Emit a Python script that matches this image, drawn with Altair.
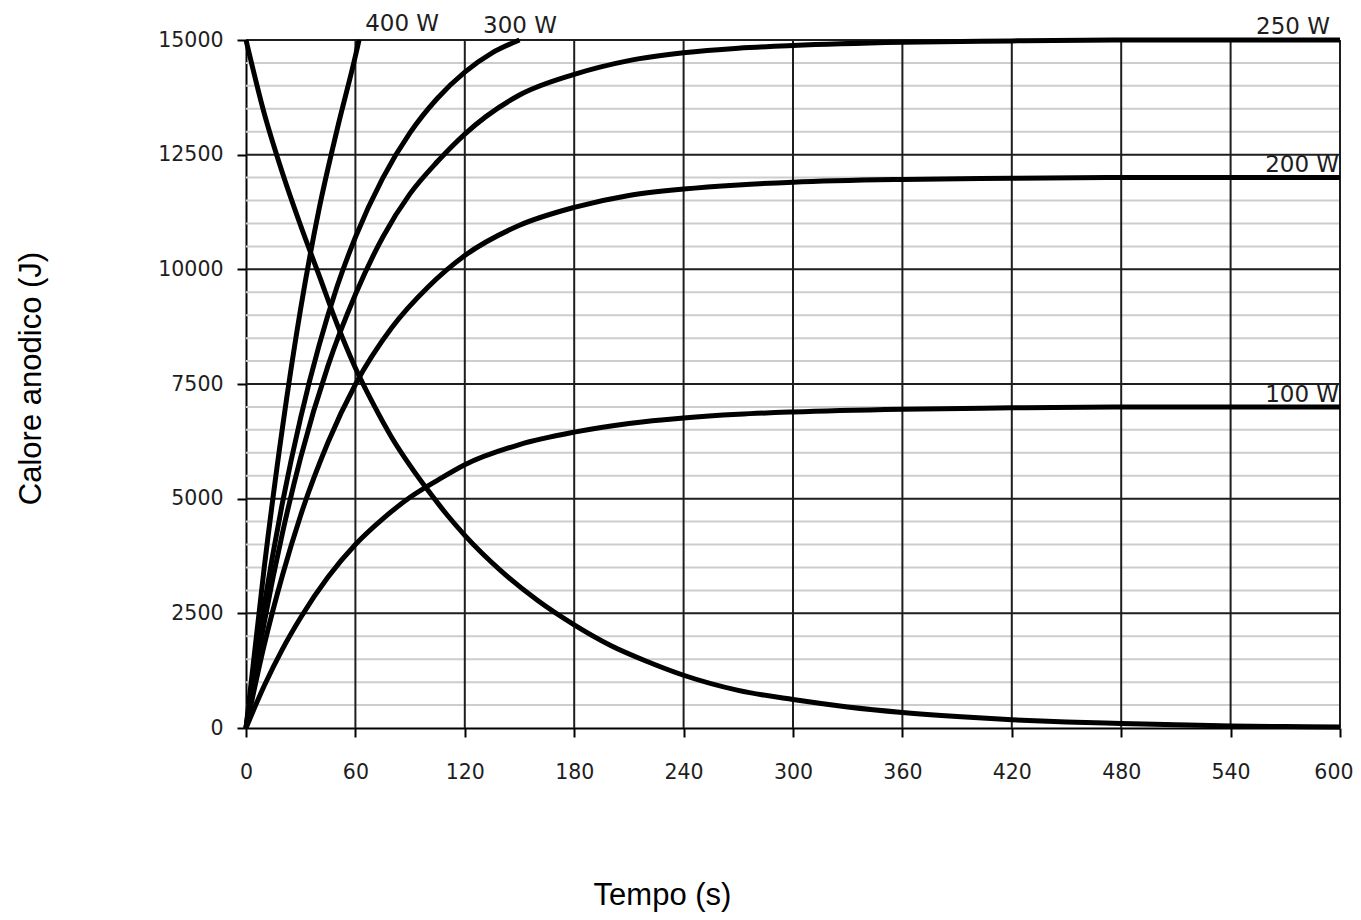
import altair as alt
import pandas as pd

# ---- data ----
t_cool = [0, 10, 20, 30, 40, 50, 60, 70, 80, 90, 100, 110, 120, 140, 160, 180, 200, 220, 240, 270, 300, 330, 360, 390, 420, 450, 480, 510, 540, 570, 600]
q_cool = [15000, 13400, 12100, 10950, 9880, 8800, 7850, 7050, 6330, 5720, 5170, 4660, 4200, 3420, 2780, 2250, 1800, 1450, 1150, 820, 620, 460, 340, 250, 180, 130, 100, 70, 45, 30, 20]

t_100 = [0, 10, 20, 30, 45, 60, 75, 90, 105, 120, 150, 180, 210, 240, 270, 300, 360, 420, 480, 600]
q_100 = [0, 920, 1720, 2410, 3290, 4000, 4560, 5030, 5400, 5740, 6180, 6450, 6640, 6760, 6840, 6890, 6950, 6980, 7000, 7000]

t_200 = [0, 10, 20, 30, 45, 60, 80, 100, 120, 150, 180, 210, 240, 270, 300, 360, 420, 480, 600]
q_200 = [0, 1810, 3330, 4640, 6230, 7490, 8730, 9620, 10300, 10960, 11350, 11610, 11750, 11840, 11900, 11960, 11985, 12000, 12000]

t_250 = [0, 10, 20, 30, 45, 60, 75, 90, 105, 120, 150, 180, 210, 240, 270, 300, 360, 420, 480, 600]
q_250 = [0, 2300, 4250, 5900, 7900, 9450, 10700, 11650, 12350, 12950, 13800, 14250, 14550, 14720, 14820, 14880, 14950, 14980, 15000, 15000]

t_300 = [0, 10, 20, 30, 40, 50, 60, 75, 90, 105, 120, 135, 150]
q_300 = [0, 2680, 4910, 6770, 8330, 9630, 10700, 11990, 12980, 13730, 14300, 14720, 15000]

t_400 = [0, 10, 20, 30, 40, 50, 60, 62]
q_400 = [0, 3500, 6550, 9150, 11300, 13050, 14650, 15000]

label_text = ["400 W", "300 W", "250 W", "200 W", "100 W"]
label_t = [105.9, 170.6, 594.5, 599.5, 599.5]
label_q = [15196, 15159, 15131, 12129, 7114]

x_ticks = list(range(0, 601, 60))
y_ticks = list(range(0, 15001, 2500))
x_major = [v for v in x_ticks if v > 0]
y_major = [v for v in y_ticks if v > 0]
y_minor = [v for v in range(500, 15000, 500) if v % 2500]

series = {
    "Raffreddamento": (t_cool, q_cool),
    "100 W": (t_100, q_100),
    "200 W": (t_200, q_200),
    "250 W": (t_250, q_250),
    "300 W": (t_300, q_300),
    "400 W": (t_400, q_400),
}
rows = []
for name, (ts, qs) in series.items():
    for t, q in zip(ts, qs):
        rows.append({"serie": name, "t": t, "q": q})
df = pd.DataFrame(rows)

xscale = alt.Scale(domain=[0, 600], nice=False, zero=False)
yscale = alt.Scale(domain=[0, 15000], nice=False, zero=False)

ax_x = alt.Axis(
    values=x_ticks, format="d", title="Tempo (s)", titleX=416, titleY=176,
    titleAlign="center", titleBaseline="alphabetic",
    labelPadding=25,
    labelAlign=alt.condition("datum.value == 600", alt.value("right"), alt.value("center")),
    labelOffset=alt.condition("datum.value == 600", alt.value(13), alt.value(0)),
)
ax_y = alt.Axis(
    values=y_ticks, format="d", title="Calore anodico (J)", titleX=-215, titleY=338,
    titleAlign="center", titleBaseline="middle", titleAngle=270,
    labelPadding=14,
)
X = lambda: alt.X("t:Q", scale=xscale, axis=ax_x)
Y = lambda: alt.Y("q:Q", scale=yscale, axis=ax_y)

minor = alt.Chart(pd.DataFrame({"q": y_minor})).mark_rule(
    color="#cdcdcd", strokeWidth=2
).encode(y=Y())

major_y = alt.Chart(pd.DataFrame({"q": y_major})).mark_rule(
    color="#1e1e1e", strokeWidth=2
).encode(y=Y())

major_x = alt.Chart(pd.DataFrame({"t": x_major})).mark_rule(
    color="#1e1e1e", strokeWidth=2
).encode(x=X())

lines = alt.Chart(df).mark_line(
    color="black", strokeWidth=5, interpolate="monotone"
).encode(x=X(), y=Y(), detail="serie:N")

labels = alt.Chart(pd.DataFrame({"txt": label_text, "t": label_t, "q": label_q})).mark_text(
    align="right", baseline="alphabetic", font="DejaVu Sans", fontSize=23, color="#1e1e1e"
).encode(x=X(), y=Y(), text="txt:N")

chart = alt.layer(minor, major_y, major_x, lines, labels).properties(
    width=1094, height=688,
    padding={"left": 238, "top": 32, "right": 13, "bottom": 184},
    autosize=alt.AutoSizeParams(type="none"),
    background="white",
).configure_view(stroke=None).configure_axis(
    grid=False,
    domainColor="black", domainWidth=2,
    tickColor="black", tickWidth=2, tickSize=9,
    labelFont="DejaVu Sans", labelFontSize=20.5, labelColor="#1e1e1e",
    titleFont="Liberation Sans", titleFontSize=31, titleFontWeight="normal", titleColor="black",
)

chart.save("out.html", embed_options={"renderer": "svg", "actions": False})
